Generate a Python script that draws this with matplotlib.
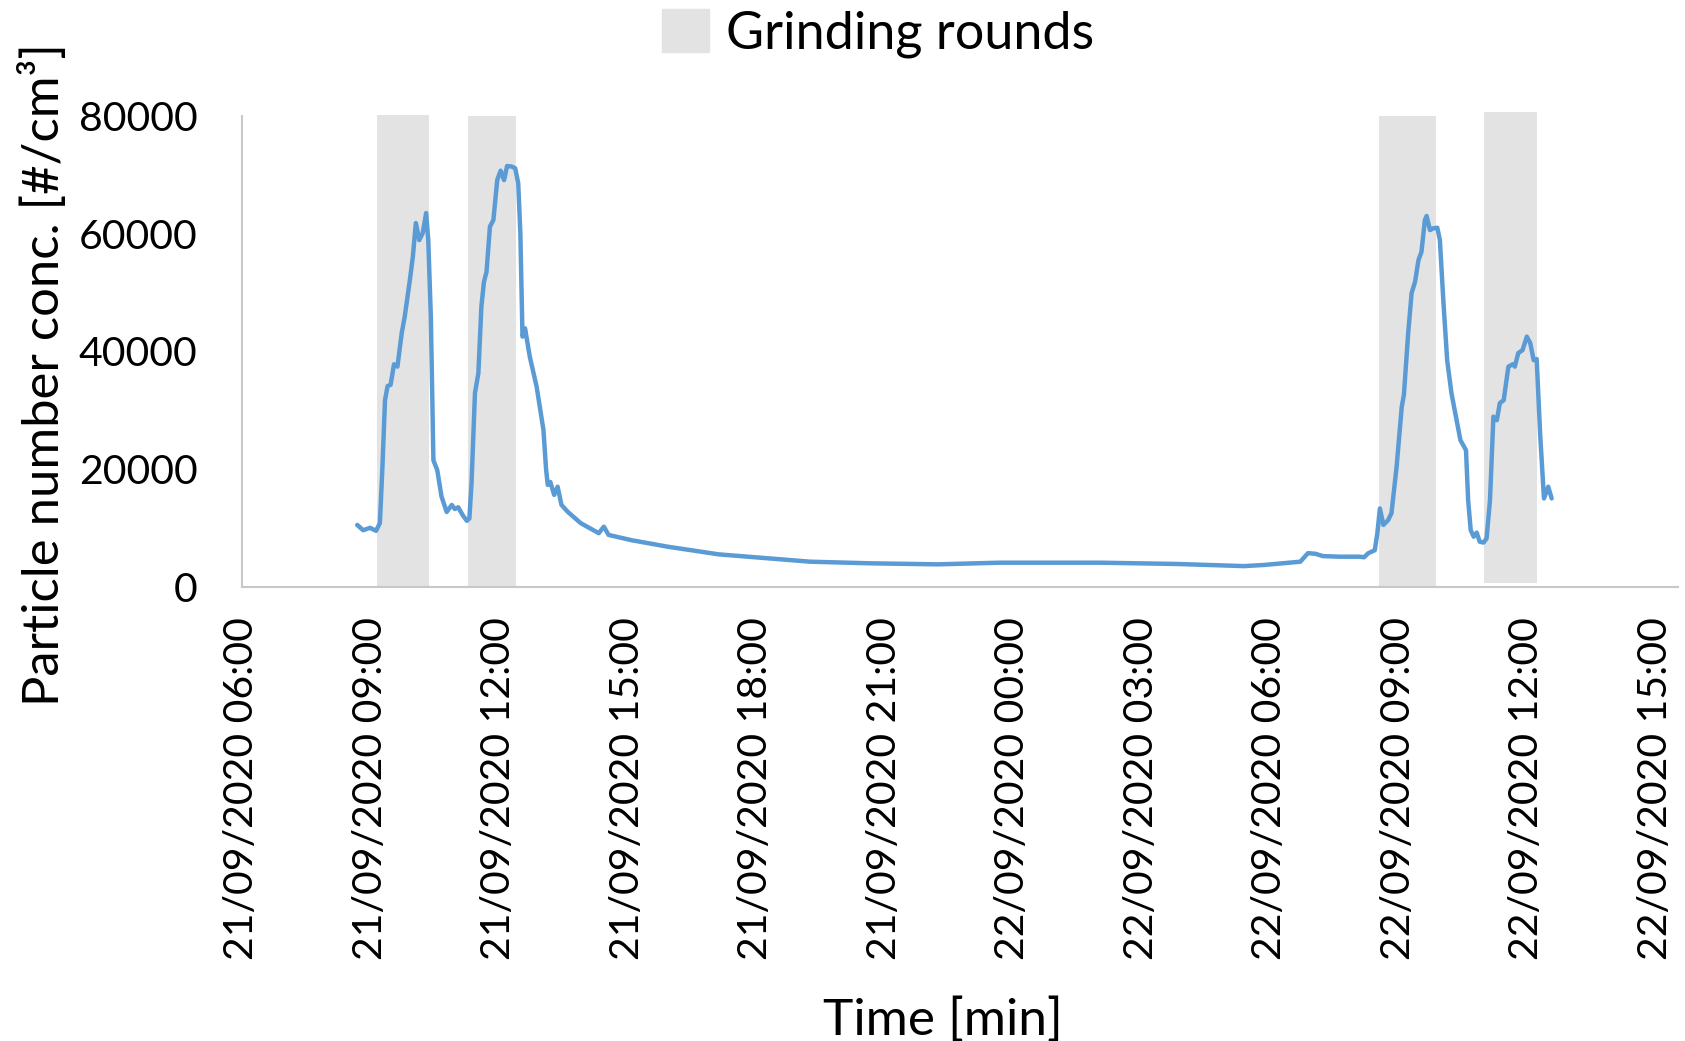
import pandas as pd
import matplotlib
matplotlib.use("Agg")
import matplotlib.pyplot as plt
import matplotlib.dates as mdates
from matplotlib.patches import Patch

plt.rcParams['font.family'] = ['Lato', 'DejaVu Sans']

# measurement start of the time axis
t0 = pd.Timestamp("2020-09-21 06:00")

# hours after t0 and particle number concentration [#/cm3]
elapsed_h = [2.69, 2.83, 2.99, 3.13, 3.22, 3.28, 3.34, 3.40, 3.47, 3.55,
             3.63, 3.73, 3.80, 3.92, 3.99, 4.06, 4.14, 4.22, 4.30, 4.35,
             4.41, 4.47, 4.56, 4.66, 4.78, 4.90, 4.97, 5.05, 5.15, 5.25,
             5.31, 5.36, 5.44, 5.52, 5.59, 5.65, 5.71, 5.79, 5.87, 5.96,
             6.04, 6.12, 6.19, 6.30, 6.38, 6.45, 6.50, 6.55, 6.61, 6.72,
             6.88, 7.04, 7.10, 7.14, 7.20, 7.29, 7.37, 7.46, 7.61, 7.91,
             8.33, 8.45, 8.56, 9.10, 9.94, 11.13, 12.32, 13.27, 14.70, 16.25,
             17.68, 20.06, 21.85, 23.40, 23.87, 24.71, 24.89, 25.06, 25.24, 25.64,
             26.10, 26.20, 26.30, 26.45, 26.51, 26.57, 26.65, 26.76, 26.84, 26.96,
             27.08, 27.13, 27.23, 27.31, 27.39, 27.47, 27.54, 27.62, 27.66, 27.74,
             27.81, 27.91, 27.97, 28.05, 28.14, 28.24, 28.36, 28.45, 28.58, 28.63,
             28.69, 28.76, 28.83, 28.90, 28.99, 29.06, 29.14, 29.22, 29.30, 29.37,
             29.46, 29.57, 29.67, 29.72, 29.80, 29.90, 30.00, 30.08, 30.16, 30.23,
             30.31, 30.40, 30.50, 30.58]
conc = [10500, 9600, 10000, 9500, 10800, 20400, 31700, 34100, 34300, 37800,
        37400, 43100, 45900, 52100, 56100, 61800, 58900, 60100, 63500, 58900,
        45900, 21500, 19800, 15300, 12700, 13900, 13200, 13500, 12200, 11200,
        11600, 17600, 32900, 36300, 47600, 51800, 53500, 61200, 62300, 69100,
        70700, 69100, 71500, 71400, 71100, 68600, 60100, 42500, 43900, 39100,
        34000, 26600, 20000, 17300, 17800, 15600, 17000, 13900, 12700, 10800,
        9100, 10200, 8800, 7900, 6800, 5500, 4800, 4250, 3970, 3800,
        4080, 4080, 3860, 3500, 3700, 4250, 5700, 5600, 5200, 5100,
        5100, 5000, 5700, 6200, 9100, 13300, 10500, 11300, 12500, 20400,
        30600, 32600, 43100, 49900, 51800, 55500, 56900, 62300, 63000, 60600,
        60900, 61000, 58900, 48700, 38500, 32900, 28300, 24900, 23200, 14700,
        9600, 8500, 9200, 7650, 7500, 8200, 14700, 28900, 28300, 31200,
        31700, 37400, 37800, 37400, 39700, 40200, 42500, 41400, 38500, 38700,
        26100, 15000, 17000, 15000]

# grinding rounds (hours after t0) and the height of each shaded band
round_start = [3.15, 5.27, 26.56, 28.99]
round_end = [4.37, 6.40, 27.89, 30.23]
round_low = [0, 0, 0, 700]
round_high = [80150, 80000, 80000, 80600]

times = t0 + pd.to_timedelta(elapsed_h, unit="h")

fig = plt.figure(figsize=(16.85, 10.41), dpi=100)
ax = fig.add_axes([0.1436, 0.4364, 0.8525, 0.4522])

for s, e, lo, hi in zip(round_start, round_end, round_low, round_high):
    span = [t0 + pd.Timedelta(hours=s), t0 + pd.Timedelta(hours=e)]
    ax.fill_between(span, lo, hi, color="#e3e3e3", lw=0, clip_on=False, zorder=1)

ax.plot(times, conc, color="#5b9bd5", lw=3.2, zorder=3,
        solid_joinstyle="round", solid_capstyle="round")

ax.set_ylim(0, 80000)
ax.set_yticks(range(0, 80001, 20000))
ax.set_xlim(t0, t0 + pd.Timedelta(hours=33.54))
ax.xaxis.set_major_locator(mdates.HourLocator(byhour=range(0, 24, 3)))
ax.xaxis.set_major_formatter(mdates.DateFormatter("%d/%m/%Y %H:%M"))

ax.tick_params(axis="x", length=0, pad=22, labelsize=29.5, rotation=90)
ax.tick_params(axis="y", length=0, pad=32, labelsize=29.5)

for side in ["top", "right"]:
    ax.spines[side].set_visible(False)
for side in ["left", "bottom"]:
    ax.spines[side].set_color("#c8c8c8")
    ax.spines[side].set_linewidth(1.5)

ax.set_xlabel("Time [min]", fontsize=37)
ax.xaxis.set_label_coords(0.488, -0.872)
ax.set_ylabel("Particle number conc. [#/cm³]", fontsize=36.5)
ax.yaxis.set_label_coords(-0.121, 0.45)

fig.legend(handles=[Patch(color="#e3e3e3")], labels=["Grinding rounds"],
           loc="upper center", bbox_to_anchor=(0.521, 1.036), frameon=False,
           fontsize=37.5, handlelength=0.9, handleheight=0.87, handletextpad=0.33)

fig.savefig("out.png", dpi=100)
